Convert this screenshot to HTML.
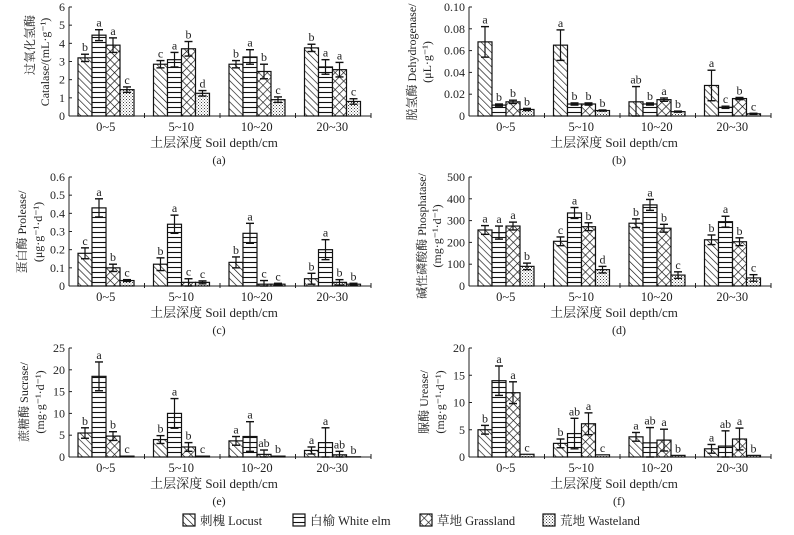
<!DOCTYPE html>
<html><head><meta charset="utf-8">
<style>
html,body{margin:0;padding:0;background:#fff;}
svg{display:block;font-family:"Liberation Serif","Noto Serif CJK SC","Noto Sans CJK SC",serif;}
</style></head>
<body>
<svg id="chart" width="794" height="535" viewBox="0 0 794 535" xmlns="http://www.w3.org/2000/svg">
<defs>
<pattern id="p-locust" patternUnits="userSpaceOnUse" width="5" height="5" patternTransform="rotate(-45)"><rect width="5" height="5" fill="#fff"/><line x1="0" y1="0" x2="0" y2="5" stroke="#111" stroke-width="1.3"/></pattern>
<pattern id="p-elm" patternUnits="userSpaceOnUse" width="5" height="5"><rect width="5" height="5" fill="#fff"/><line x1="0" y1="2.5" x2="5" y2="2.5" stroke="#111" stroke-width="1.1"/></pattern>
<pattern id="p-grass" patternUnits="userSpaceOnUse" width="6" height="6" patternTransform="rotate(45)"><rect width="6" height="6" fill="#fff"/><line x1="0" y1="0" x2="0" y2="6" stroke="#111" stroke-width="1.3"/><line x1="0" y1="0" x2="6" y2="0" stroke="#111" stroke-width="1.3"/></pattern>
<pattern id="p-waste" patternUnits="userSpaceOnUse" width="3" height="3"><rect width="3" height="3" fill="#fff"/><rect x="0" y="0" width="1" height="1" fill="#444"/><rect x="1.5" y="1.5" width="1" height="1" fill="#777"/></pattern>
</defs>
<g id="root"></g>
</svg>
<script>
const categories = ["0~5","5~10","10~20","20~30"];
const seriesNames = ["刺槐 Locust","白榆 White elm","草地 Grassland","荒地 Wasteland"];
const seriesKeys = ["locust","elm","grass","waste"];

const aLocust=[3.2,2.85,2.85,3.75], aElm=[4.45,3.1,3.25,2.7], aGrass=[3.9,3.7,2.45,2.55], aWaste=[1.45,1.25,0.9,0.8];
const aErrLocust=[0.2,0.2,0.2,0.2], aErrElm=[0.3,0.4,0.4,0.4], aErrGrass=[0.4,0.4,0.4,0.4], aErrWaste=[0.15,0.15,0.15,0.15];
const aLetters=[["b","a","a","c"],["c","a","b","d"],["b","a","b","c"],["b","a","a","c"]];
const aTicks=[0,1,2,3,4,5,6];

const bLocust=[0.068,0.065,0.013,0.028], bElm=[0.010,0.011,0.011,0.008], bGrass=[0.013,0.011,0.015,0.016], bWaste=[0.006,0.005,0.004,0.002];
const bErrLocust=[0.014,0.014,0.014,0.014], bErrElm=[0.001,0.001,0.001,0.001], bErrGrass=[0.0015,0.001,0.0015,0.001], bErrWaste=[0.001,0.0005,0.0005,0.0005];
const bLetters=[["a","b","b","b"],["a","b","b","b"],["ab","b","a","b"],["a","c","b","c"]];
const bTicks=[0,0.02,0.04,0.06,0.08,0.10];
const bTickLabels=["0","0.02","0.04","0.06","0.08","0.10"];

const cLocust=[0.18,0.12,0.13,0.04], cElm=[0.43,0.34,0.29,0.20], cGrass=[0.10,0.02,0.01,0.02], cWaste=[0.03,0.02,0.01,0.01];
const cErrLocust=[0.03,0.035,0.03,0.03], cErrElm=[0.05,0.05,0.055,0.055], cErrGrass=[0.02,0.02,0.02,0.015], cErrWaste=[0.005,0.008,0.005,0.005];
const cLetters=[["c","a","b","c"],["b","a","c","c"],["b","a","c","c"],["b","a","b","b"]];
const cTicks=[0,0.1,0.2,0.3,0.4,0.5,0.6];

const dLocust=[257,205,288,212], dElm=[245,335,372,295], dGrass=[275,272,265,203], dWaste=[90,75,50,37];
const dErrLocust=[20,20,20,22], dErrElm=[30,25,25,25], dErrGrass=[18,18,18,18], dErrWaste=[15,15,15,15];
const dLetters=[["a","a","a","b"],["c","a","b","d"],["b","a","b","c"],["b","a","b","c"]];
const dTicks=[0,100,200,300,400,500];

const eLocust=[5.5,4.0,3.7,1.5], eElm=[18.5,10.0,4.7,3.3], eGrass=[4.8,2.3,0.6,0.5], eWaste=[0.2,0.2,0.2,0.05];
const eErrLocust=[1.2,0.9,1.0,0.8], eErrElm=[3.3,3.4,3.4,3.4], eErrGrass=[1.0,1.0,1.0,0.8], eErrWaste=[0,0,0,0];
const eLetters=[["b","a","b","c"],["b","a","b","c"],["a","a","ab","b"],["a","a","ab","b"]];
const eTicks=[0,5,10,15,20,25];

const fLocust=[5.0,2.5,3.7,1.5], fElm=[14.0,4.3,2.6,2.0], fGrass=[11.8,6.1,3.1,3.3], fWaste=[0.5,0.4,0.3,0.3];
const fErrLocust=[0.8,0.8,0.8,0.8], fErrElm=[2.7,2.8,2.8,2.8], fErrGrass=[2.0,2.0,2.0,2.0], fErrWaste=[0,0,0,0];
const fLetters=[["b","a","a","c"],["b","ab","a","c"],["a","ab","a","b"],["a","ab","a","b"]];
const fTicks=[0,5,10,15,20];

const NS="http://www.w3.org/2000/svg";
const root=document.getElementById('root');
function el(tag,attrs,parent,text){const e=document.createElementNS(NS,tag);for(const k in attrs)e.setAttribute(k,attrs[k]);if(text!==undefined)e.textContent=text;(parent||root).appendChild(e);return e;}

const panels=[
 {id:"a",x0:69,top:7,base:116,max:6,ticks:aTicks,labels:null,vals:[aLocust,aElm,aGrass,aWaste],errs:[aErrLocust,aErrElm,aErrGrass,aErrWaste],letters:aLetters,ytitle:["过氧化氢酶","Catalase/(mL·g⁻¹)"],yx:[30,45],yc:[45,62]},
 {id:"b",x0:469,top:7,base:116,max:0.10,ticks:bTicks,labels:bTickLabels,vals:[bLocust,bElm,bGrass,bWaste],errs:[bErrLocust,bErrElm,bErrGrass,bErrWaste],letters:bLetters,ytitle:["脱氢酶 Dehydrogenase/","(μL·g⁻¹)"],yx:[412,427],yc:[62,62]},
 {id:"c",x0:69,top:177,base:286,max:0.6,ticks:cTicks,labels:null,vals:[cLocust,cElm,cGrass,cWaste],errs:[cErrLocust,cErrElm,cErrGrass,cErrWaste],letters:cLetters,ytitle:["蛋白酶 Prolease/","(μg·g⁻¹·d⁻¹)"],yx:[22,38],yc:[232,232]},
 {id:"d",x0:469,top:177,base:286,max:500,ticks:dTicks,labels:null,vals:[dLocust,dElm,dGrass,dWaste],errs:[dErrLocust,dErrElm,dErrGrass,dErrWaste],letters:dLetters,ytitle:["碱性磷酸酶 Phosphatase/","(mg·g⁻¹·d⁻¹)"],yx:[422,437],yc:[236,236]},
 {id:"e",x0:69,top:348,base:457,max:25,ticks:eTicks,labels:null,vals:[eLocust,eElm,eGrass,eWaste],errs:[eErrLocust,eErrElm,eErrGrass,eErrWaste],letters:eLetters,ytitle:["蔗糖酶 Sucrase/","(mg·g⁻¹·d⁻¹)"],yx:[24,40],yc:[402,402]},
 {id:"f",x0:469,top:348,base:457,max:20,ticks:fTicks,labels:null,vals:[fLocust,fElm,fGrass,fWaste],errs:[fErrLocust,fErrElm,fErrGrass,fErrWaste],letters:fLetters,ytitle:["脲酶 Urease/","(mg·g⁻¹·d⁻¹)"],yx:[424,440],yc:[402,402]}
];
const W=302, GW=W/4, BW=14, OFF=9;

panels.forEach(p=>{
  const g=el('g',{});
  
  
  const y=v=>p.base-(v/p.max)*(p.base-p.top);
  const xg=i=>p.x0+i*GW+OFF;
  const ax=el('line',{x1:p.x0,y1:p.top,x2:p.x0,y2:p.base,stroke:'#222','stroke-width':1},g);
  
  
  const bx=el('line',{x1:p.x0,y1:p.base,x2:p.x0+W,y2:p.base,stroke:'#222','stroke-width':1},g);
  
  
  p.ticks.forEach((t,k)=>{
    el('line',{x1:p.x0,y1:y(t),x2:p.x0+3,y2:y(t),stroke:'#222'},g);
    const tl=el('text',{x:p.x0-4,y:y(t)+4,'text-anchor':'end','font-size':12,fill:'#222'},g,p.labels?p.labels[k]:String(t));
    
    
  });
  for(let i=1;i<=4;i++){el('line',{x1:p.x0+i*GW,y1:p.base-3,x2:p.x0+i*GW,y2:p.base+2,stroke:'#222'},g);}
  categories.forEach((c,i)=>{
    const t=el('text',{x:p.x0+i*GW+GW/2-1,y:p.base+15,'text-anchor':'middle','font-size':12.5,fill:'#222'},g,c);
    
    
    for(let s=0;s<4;s++){
      const v=p.vals[s][i], e=p.errs[s][i];
      const bx0=xg(i)+s*BW;
      const r=el('rect',{x:bx0,y:y(v),width:BW,height:Math.max(p.base-y(v),0.01),fill:'url(#p-'+seriesKeys[s]+')',stroke:'#111','stroke-width':1.2},g);
      
      
      const cx=bx0+BW/2;
      if(e>0){
        el('line',{x1:cx,y1:y(v+e),x2:cx,y2:y(Math.max(v-e,0)),stroke:'#111','stroke-width':1.2},g);
        el('line',{x1:cx-4,y1:y(v+e),x2:cx+4,y2:y(v+e),stroke:'#111','stroke-width':1.4},g);
        el('line',{x1:cx-4,y1:y(Math.max(v-e,0)),x2:cx+4,y2:y(Math.max(v-e,0)),stroke:'#111','stroke-width':1.4},g);
      }
      const lt=el('text',{x:cx,y:y(v+e)-3,'text-anchor':'middle','font-size':12,fill:'#222'},g,p.letters[i][s]);
      
      
    }
  });
  const xt=el('text',{x:p.x0+W/2-6,y:p.base+31,'text-anchor':'middle','font-size':13,fill:'#222'},g,'土层深度 Soil depth/cm');
  
  
  const sl=el('text',{x:p.x0+W/2-1,y:p.base+48,'text-anchor':'middle','font-size':12,fill:'#222'},g,'('+p.id+')');
  
  
  p.ytitle.forEach((t,k)=>{
    const yt=el('text',{x:0,y:0,'text-anchor':'middle','font-size':12,fill:'#222',transform:'translate('+(p.yx[k]+4)+','+p.yc[k]+') rotate(-90)'},g,t);
    
    
  });
});
const legX=[183,293,420,543];
const lg=el('g',{});


seriesNames.forEach((n,s)=>{
  const it=el('g',{},lg);
  
  
  el('rect',{x:legX[s],y:514,width:12,height:12,fill:'url(#p-'+seriesKeys[s]+')',stroke:'#111','stroke-width':1.2},it);
  el('text',{x:legX[s]+17,y:525,'font-size':12.5,fill:'#222'},it,n);
});
</script>
</body></html>
